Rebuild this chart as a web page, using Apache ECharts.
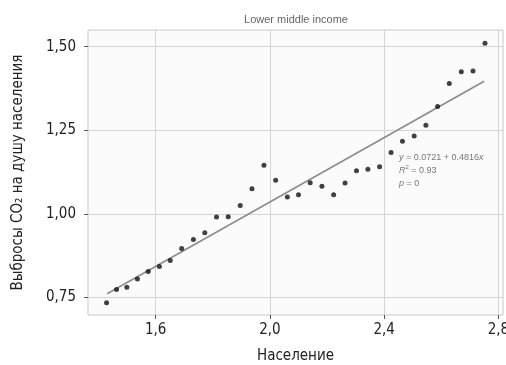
<!DOCTYPE html>
<html>
<head>
<meta charset="utf-8">
<script src="https://cdn.jsdelivr.net/npm/echarts@6/dist/echarts.min.js"></script>
<style>
  html, body { margin: 0; padding: 0; background: #fff; }
  #chart { width: 506px; height: 365px; }
</style>
</head>
<body>
<div id="chart"></div>
<script>
// population (x) vs CO2 per capita (y)
const popX = [
  1.428, 1.463, 1.499, 1.536, 1.574, 1.613, 1.651, 1.691, 1.732, 1.772,
  1.813, 1.854, 1.896, 1.937, 1.979, 2.020, 2.061, 2.100, 2.141, 2.182,
  2.223, 2.263, 2.303, 2.343, 2.384, 2.424, 2.464, 2.505, 2.546, 2.587,
  2.628, 2.670, 2.711, 2.753
];
const co2Y = [
  0.734, 0.773, 0.780, 0.805, 0.827, 0.842, 0.860, 0.896, 0.923, 0.943,
  0.990, 0.991, 1.025, 1.075, 1.145, 1.100, 1.050, 1.057, 1.093, 1.082,
  1.057, 1.092, 1.129, 1.133, 1.141, 1.183, 1.217, 1.233, 1.265, 1.321,
  1.390, 1.425, 1.427, 1.510
];
// regression shown in the annotation
const intercept = 0.0721;
const slope = 0.4816;
const fitX = [1.43, 2.75];

const xTicks = [1.6, 2.0, 2.4, 2.8];
const yTicks = [0.75, 1.0, 1.25, 1.5];

const condensed = "'Liberation Sans Narrow', 'DejaVu Sans Condensed', sans-serif";

const points = popX.map((x, i) => [x, co2Y[i]]);
const fitLine = fitX.map(x => [x, intercept + slope * x]);

const chart = echarts.init(document.getElementById('chart'));

chart.setOption({
  animation: false,
  backgroundColor: '#ffffff',
  grid: {
    left: 88, right: 3, top: 30, bottom: 50,
    outerBoundsMode: 'none',
    containLabel: false,
    show: true,
    borderColor: '#c9c9c9',
    borderWidth: 1,
    backgroundColor: '#fbfbfb'
  },
  xAxis: {
    type: 'value',
    min: 1.363,
    max: 2.816,
    name: 'Население',
    nameLocation: 'middle',
    nameGap: 34,
    nameTextStyle: { fontFamily: condensed, fontSize: 15, color: '#222' },
    axisLine: { show: false },
    axisTick: { show: true, customValues: xTicks, length: 4, lineStyle: { color: '#555' } },
    axisLabel: {
      customValues: xTicks,
      fontFamily: condensed, fontSize: 15, color: '#222', margin: 8,
      formatter: v => v.toFixed(1).replace('.', ',')
    },
    splitLine: { show: true, lineStyle: { color: '#d4d4d4', width: 1 } }
  },
  yAxis: {
    type: 'value',
    min: 0.697,
    max: 1.55,
    name: 'Выбросы CO₂ на душу населения',
    nameLocation: 'middle',
    nameGap: 62,
    nameTextStyle: { fontFamily: condensed, fontSize: 15, color: '#222' },
    axisLine: { show: false },
    axisTick: { show: true, customValues: yTicks, length: 4, lineStyle: { color: '#555' } },
    axisLabel: {
      customValues: yTicks,
      fontFamily: condensed, fontSize: 15, color: '#222', margin: 12,
      formatter: v => v.toFixed(2).replace('.', ',')
    },
    splitLine: { show: true, lineStyle: { color: '#d4d4d4', width: 1 } }
  },
  graphic: [
    {
      type: 'text', x: 296, y: 20,
      style: {
        text: 'Lower middle income', align: 'center', verticalAlign: 'middle',
        fontFamily: 'Liberation Sans, Arial, sans-serif', fontSize: 11, fill: '#666'
      }
    },
    {
      type: 'text', x: 399, y: 151,
      style: {
        text: '{i|y} = 0.0721 + 0.4816{i|x}\n{i|R}{s|2} = 0.93\n{i|p} = 0',
        fontFamily: 'Liberation Sans, Arial, sans-serif', fontSize: 9, fill: '#777',
        lineHeight: 13,
        rich: {
          i: { fontStyle: 'italic', fontSize: 9, fill: '#777', fontFamily: 'Liberation Sans, Arial, sans-serif' },
          s: { fontSize: 6, fill: '#777', verticalAlign: 'top', fontFamily: 'Liberation Sans, Arial, sans-serif' }
        }
      }
    }
  ],
  series: [
    {
      type: 'line',
      data: fitLine,
      symbol: 'none',
      lineStyle: { color: '#8c8c8c', width: 1.6 },
      z: 2
    },
    {
      type: 'scatter',
      data: points,
      symbolSize: 5,
      itemStyle: { color: '#111' },
      z: 3
    }
  ]
});
</script>
</body>
</html>
